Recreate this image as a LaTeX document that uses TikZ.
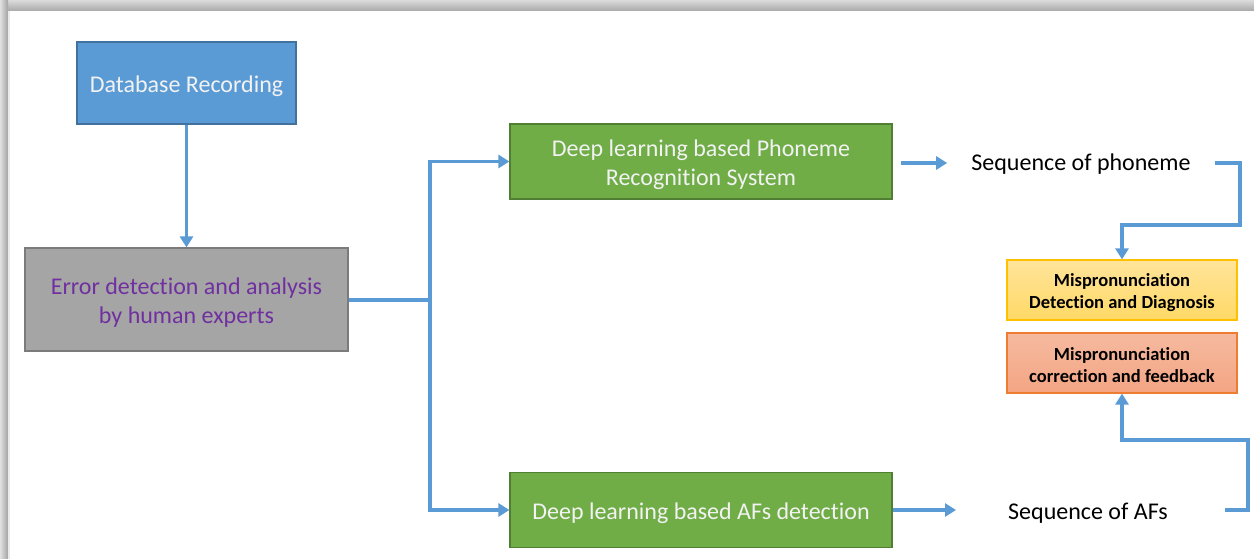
\documentclass[tikz,border=0pt]{standalone}
\usepackage{fontspec}
\setmainfont{Carlito}[Ligatures=NoCommon]
\usetikzlibrary{arrows.meta,calc}

\definecolor{lineblue}{HTML}{5B9BD5}
\definecolor{dbfill}{HTML}{5B9BD5}
\definecolor{dbedge}{HTML}{41719C}
\definecolor{grayfill}{HTML}{A5A5A5}
\definecolor{grayedge}{HTML}{7B7B7B}
\definecolor{txtpurple}{HTML}{7030A0}
\definecolor{greenfill}{HTML}{70AD47}
\definecolor{greenedge}{HTML}{507E32}
\definecolor{yeltop}{HTML}{FFE49A}
\definecolor{yelbot}{HTML}{FFD966}
\definecolor{yeledge}{HTML}{FFC000}
\definecolor{orgtop}{HTML}{F5BAA0}
\definecolor{orgbot}{HTML}{F4A583}
\definecolor{orgedge}{HTML}{ED7D31}
\definecolor{lighttxt}{HTML}{F2F2F2}

\tikzset{
  box/.style={draw, line width=1.2pt, inner sep=0pt},
  boxtext/.style={inner sep=0pt, align=center, yshift=-3pt,
    font=\fontsize{24}{29}\selectfont},
  dbbox/.style={box, fill=dbfill, draw=dbedge,
    minimum width=219pt, minimum height=82pt},
  errbox/.style={box, fill=grayfill, draw=grayedge,
    minimum width=323pt, minimum height=103pt},
  dlbox/.style={box, fill=greenfill, draw=greenedge,
    minimum width=382pt, minimum height=75pt},
  smallbox/.style={box, minimum width=230pt, minimum height=60pt},
  smalltext/.style={inner sep=0pt, align=center, yshift=-2.5pt,
    font=\fontsize{18.5}{22}\selectfont\bfseries},
  mddbox/.style={smallbox, draw=yeledge, top color=yeltop, bottom color=yelbot},
  corrbox/.style={smallbox, draw=orgedge, top color=orgtop, bottom color=orgbot},
  seqtext/.style={inner sep=0pt, font=\fontsize{24}{29}\selectfont},
  conn/.style={draw=lineblue, line width=3.5pt},
  arr/.style={conn, -{Triangle[length=11pt,width=13pt]}},
}

\begin{document}
\begin{tikzpicture}[x=1pt, y=-1pt]
  % page and its shadowed frame
  \useasboundingbox (0,0) rectangle (1254,559);
  \fill[white] (0,0) rectangle (1254,559);
  \shade[top color=black!14, bottom color=black!34] (0,0) rectangle (1254,11);
  \shade[left color=black!12, right color=black!36] (0,0) rectangle (8,559);
  \fill[black!8] (8,11) rectangle (9.5,559);

  % boxes
  \node[dbbox, label={[boxtext, text=lighttxt]center:Database Recording}]
    (db) at (186.5,83) {};
  \node[errbox, label={[boxtext, text=txtpurple]center:{Error detection and analysis\\by human experts}}]
    (err) at (186.5,299.5) {};
  \node[dlbox, label={[boxtext, text=lighttxt]center:{Deep learning based Phoneme\\Recognition System}}]
    (phon) at (701,161.5) {};
  \node[dlbox, label={[boxtext, text=lighttxt]center:Deep learning based AFs detection}]
    (afs) at (701,510) {};
  \node[mddbox, label={[smalltext]center:{Mispronunciation\\Detection and Diagnosis}}]
    (mdd) at (1122,290) {};
  \node[corrbox, label={[smalltext]center:{Mispronunciation\\correction and feedback}}]
    (corr) at (1122,363) {};

  % outputs
  \node[seqtext] (seqp) at (1081,164) {Sequence of phoneme};
  \node[seqtext] (seqa) at (1088,513) {Sequence of AFs};

  % routing points
  \coordinate (split) at (430,300);
  \coordinate (pout)  at (1215,163);
  \coordinate (pturn) at (1240,225);
  \coordinate (aout)  at (1225,510);
  \coordinate (aturn) at (1248,440);

  % connectors
  \draw[arr] (db.south) -- (err.north);
  \draw[conn] (err.east |- split) -- (split);
  \draw[arr] (split) |- (phon.west);
  \draw[arr] (split) |- (afs.west);
  \draw[arr] ([xshift=8pt]phon.east |- pout) -- ([xshift=-24pt]seqp.west |- pout);
  \draw[arr] (afs.east |- aout) -- ([xshift=-52pt]seqa.west |- aout);
  \draw[arr] (pout) -| (pturn) -| (mdd.north);
  \draw[arr] (aout) -| (aturn) -| (corr.south);
\end{tikzpicture}
\end{document}
